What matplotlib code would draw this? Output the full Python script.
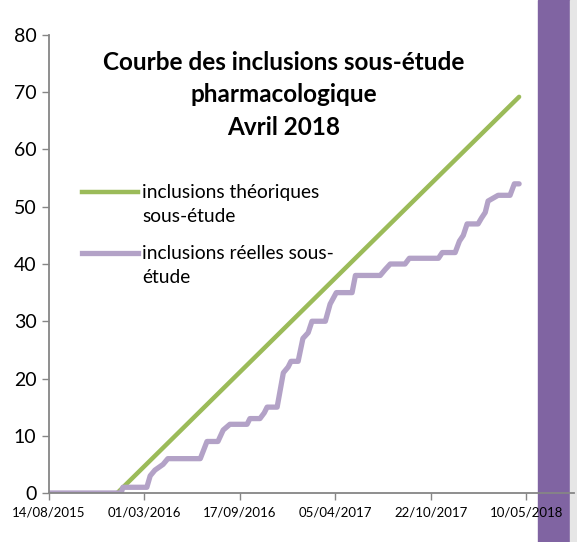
import numpy as np
import pandas as pd
import matplotlib
matplotlib.use('Agg')
import matplotlib.pyplot as plt
import matplotlib.dates as mdates
from matplotlib.patches import Rectangle
from matplotlib.lines import Line2D

plt.rcParams['font.family'] = ['Lato', 'DejaVu Sans']

# inclusions theoriques (droite)
theo_dates = ['2016-01-04', '2018-04-25']
theo_vals = [0, 69.2]

# inclusions reelles (escalier)
reel_dates = ['2015-08-14', '2016-01-12', '2016-01-16', '2016-03-06', '2016-03-13',
              '2016-03-23', '2016-04-09', '2016-04-19', '2016-06-26', '2016-07-10',
              '2016-08-02', '2016-08-13', '2016-08-27', '2016-10-02', '2016-10-08',
              '2016-10-29', '2016-11-07', '2016-11-13', '2016-12-04', '2016-12-17',
              '2016-12-27', '2017-01-02', '2017-01-17', '2017-01-27', '2017-02-07',
              '2017-02-15', '2017-03-15', '2017-03-25', '2017-04-07', '2017-05-10',
              '2017-05-17', '2017-07-08', '2017-07-18', '2017-07-29', '2017-08-29',
              '2017-09-07', '2017-11-07', '2017-11-15', '2017-12-12', '2017-12-21',
              '2017-12-29', '2018-01-06', '2018-01-29', '2018-02-05', '2018-02-13',
              '2018-02-19', '2018-03-12', '2018-04-06', '2018-04-15', '2018-04-25']
reel_vals = [0, 0, 1, 1, 3,
             4, 5, 6, 6, 9,
             9, 11, 12, 12, 13,
             13, 14, 15, 15, 21,
             22, 23, 23, 27, 28,
             30, 30, 33, 35, 35,
             38, 38, 39, 40, 40,
             41, 41, 42, 42, 44,
             45, 47, 47, 48, 49,
             51, 52, 52, 54, 54]

tick_dates = pd.date_range('2015-08-14', periods=6, freq='200D')

green = '#9BBB59'
lilac = '#B3A2C7'
grey = '#868686'

fig = plt.figure(figsize=(5.77, 5.42), dpi=100)
ax = fig.add_axes([49/577, 1-493/542, 525/577, 458/542])
ax.set_facecolor('none')

# bande violette a droite
fig.add_artist(Rectangle((538/577, 0), 32/577, 1, transform=fig.transFigure,
                         color='#8064A2', zorder=-2))
fig.add_artist(Rectangle((570/577, 0), 7/577, 1, transform=fig.transFigure,
                         color='#E6E6E6', zorder=-2))

ax.plot(pd.to_datetime(theo_dates), theo_vals, color=green, lw=3.2,
        solid_capstyle='round')
ax.plot(pd.to_datetime(reel_dates), reel_vals, color=lilac, lw=3.8,
        solid_capstyle='round', solid_joinstyle='round')

ax.set_xlim(pd.Timestamp('2015-08-14'), pd.Timestamp('2018-08-18'))
ax.set_ylim(0, 80)
ax.set_yticks(range(0, 81, 10))
ax.set_xticks(tick_dates)
ax.xaxis.set_major_formatter(mdates.DateFormatter('%d/%m/%Y'))

for s in ['top', 'right']:
    ax.spines[s].set_visible(False)
for s in ['left', 'bottom']:
    ax.spines[s].set_color(grey)
    ax.spines[s].set_linewidth(1.3)
ax.tick_params(axis='y', length=5, width=1, color=grey, labelsize=14, pad=4)
ax.tick_params(axis='x', length=5, width=1, color=grey, labelsize=9.5, pad=5)

fig.text(0.492, 1-95/542, 'Courbe des inclusions sous-étude\npharmacologique\nAvril 2018',
         ha='center', va='center', fontsize=17.5, fontweight='bold',
         linespacing=1.5)

# legende
fig.add_artist(Line2D([82/577, 138/577], [1-191.7/542]*2, color=green, lw=3.2))
fig.add_artist(Line2D([82/577, 138/577], [1-252.7/542]*2, color=lilac, lw=3.8))
fig.text(142/577, 1-204.5/542, 'inclusions théoriques\nsous-étude',
         ha='left', va='center', fontsize=13.8, linespacing=1.5)
fig.text(142/577, 1-265.5/542, 'inclusions réelles sous-\nétude',
         ha='left', va='center', fontsize=13.8, linespacing=1.5)

fig.savefig('out.png', dpi=100)
